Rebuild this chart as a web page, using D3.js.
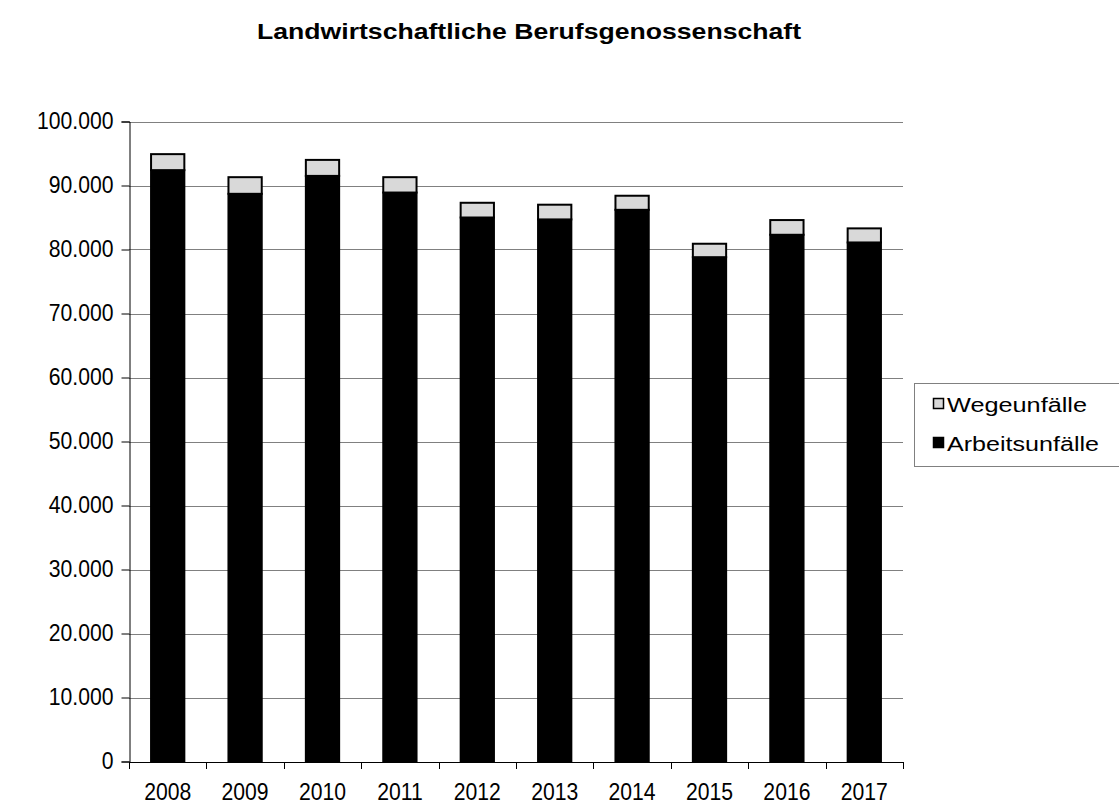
<!DOCTYPE html>
<html><head><meta charset="utf-8">
<script src="https://cdn.jsdelivr.net/npm/d3@7"></script>
<style>body{margin:0;background:#fff}svg{display:block}text{font-family:"Liberation Sans",Arial,sans-serif}</style>
</head><body>
<script>
const years = ["2008","2009","2010","2011","2012","2013","2014","2015","2016","2017"];
const arbeitsunfaelle = [92400, 88700, 91500, 88900, 85000, 84700, 86200, 78800, 82300, 81100];
const wegeunfaelle = [2500, 2600, 2500, 2400, 2300, 2300, 2200, 2100, 2300, 2200];
const yTicks = [0,10000,20000,30000,40000,50000,60000,70000,80000,90000,100000];
const seriesNames = ["Arbeitsunfälle","Wegeunfälle"];
const legendOrder = ["Wegeunfälle","Arbeitsunfälle"];
const colors = {"Arbeitsunfälle":"#000000","Wegeunfälle":"#d9d9d9"};

const W=1119,H=807;
const svg=d3.select("body").append("svg").attr("width",W).attr("height",H);
const x=d3.scaleBand().domain(years).range([129,903]).paddingInner(0.57).paddingOuter(0.285);
const y=d3.scaleLinear().domain([0,100000]).range([761.5,121.5]);
const fmt=v=>d3.format(",")(v).replace(/,/g,".");
function condense(sel,f){sel.each(function(){const n=this.getComputedTextLength();d3.select(this).attr("textLength",n*f).attr("lengthAdjust","spacingAndGlyphs");});}

svg.append("text").attr("x",529).attr("y",39).attr("text-anchor","middle")
  .attr("font-weight","bold").attr("font-size",22)
  .attr("textLength",544).attr("lengthAdjust","spacingAndGlyphs")
  .text("Landwirtschaftliche Berufsgenossenschaft");

// gridlines
svg.append("g").selectAll("line").data(yTicks.filter(d=>d>0)).join("line")
  .attr("x1",129).attr("x2",903).attr("y1",d=>Math.round(y(d))+0.5).attr("y2",d=>Math.round(y(d))+0.5)
  .attr("stroke","#808080").attr("stroke-width",1);

// y axis
const ya=svg.append("g").attr("transform","translate(129.5,0)")
  .call(d3.axisLeft(y).tickValues(yTicks).tickFormat(fmt).tickSize(8).tickPadding(8));
ya.selectAll("text").attr("font-size",23).attr("fill","#000").attr("font-family","Liberation Sans, Arial, sans-serif").call(condense,0.92);
ya.select(".domain").attr("stroke","#000");

// bars
const data=years.map((yr,i)=>({year:yr,"Arbeitsunfälle":arbeitsunfaelle[i],"Wegeunfälle":wegeunfaelle[i]}));
const stack=d3.stack().keys(seriesNames)(data);
svg.append("g").selectAll("g").data(stack).join("g").attr("fill",d=>colors[d.key])
  .selectAll("rect").data(d=>d).join("rect")
  .attr("x",d=>x(d.data.year)).attr("width",x.bandwidth())
  .attr("y",d=>y(d[1])).attr("height",d=>y(d[0])-y(d[1]))
  .attr("stroke","#000").attr("stroke-width",2);

// x axis
const xa=svg.append("g").attr("transform","translate(0,762)");
xa.append("line").attr("x1",129).attr("x2",903).attr("y1",0.5).attr("y2",0.5).attr("stroke","#000");
const bounds=d3.range(11).map(i=>129+i*(903-129)/10);
xa.selectAll("line.t").data(bounds).join("line").attr("class","t")
  .attr("x1",d=>Math.round(d)+0.5).attr("x2",d=>Math.round(d)+0.5).attr("y1",0).attr("y2",7).attr("stroke","#000");
xa.selectAll("text").data(years).join("text")
  .attr("x",d=>x(d)+x.bandwidth()/2).attr("y",38).attr("text-anchor","middle").attr("font-size",23).text(d=>d)
  .call(condense,0.92);

// legend
const lg=svg.append("g");
lg.append("rect").attr("x",914.5).attr("y",383.5).attr("width",206).attr("height",83).attr("fill","#fff").attr("stroke","#808080");
const lgY=d3.scalePoint().domain(legendOrder).range([398,437]);
const lgLen={"Wegeunfälle":140,"Arbeitsunfälle":152};
legendOrder.forEach(k=>{
  lg.append("rect").attr("x",933.5).attr("y",lgY(k)+0.5).attr("width",10).attr("height",10)
    .attr("fill",colors[k]).attr("stroke","#000").attr("stroke-width",1.5);
  lg.append("text").attr("x",947).attr("y",lgY(k)+14).attr("font-size",20)
    .attr("textLength",lgLen[k]).attr("lengthAdjust","spacingAndGlyphs").text(k);
});
</script>
</body></html>
